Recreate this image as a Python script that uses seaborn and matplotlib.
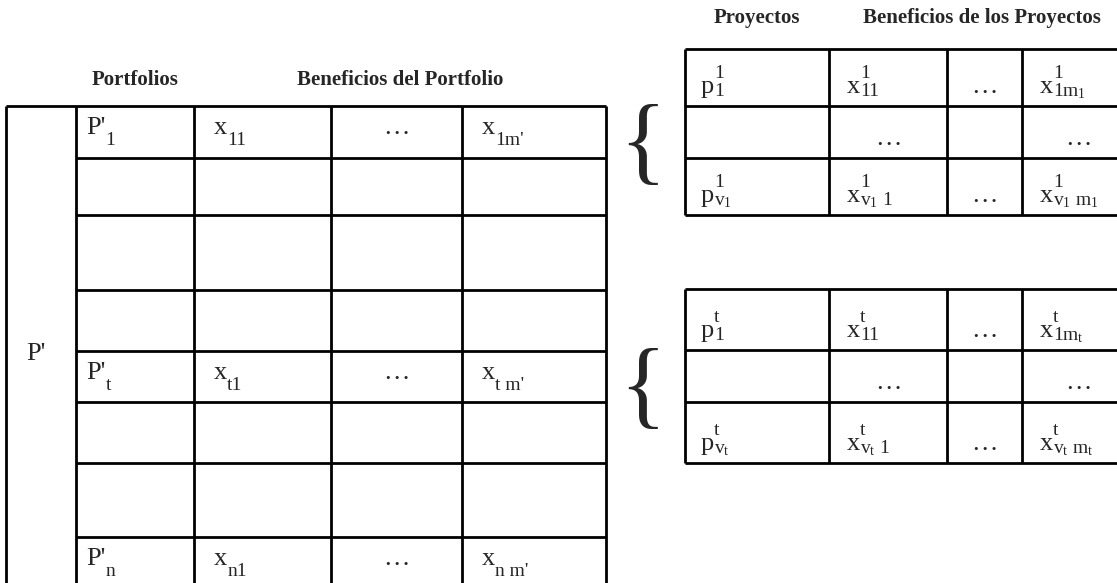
import matplotlib
matplotlib.use("Agg")
import matplotlib.pyplot as plt
import seaborn as sns

# Texts of the diagram: each cell is (base, superscript, subscript)
portfolio_headers = ["Portfolios", "Beneficios del Portfolio"]
project_headers = ["Proyectos", "Beneficios de los Proyectos"]
portfolio_set = "P'"

E = ("", "", "")
D = ("…", "", "")

portfolio_rows = [
    [("P'", "", "1"), ("x", "", "11"), D, ("x", "", "1m'")],
    [E, E, E, E],
    [E, E, E, E],
    [E, E, E, E],
    [("P'", "", "t"), ("x", "", "t1"), D, ("x", "", "t m'")],
    [E, E, E, E],
    [E, E, E, E],
    [("P'", "", "n"), ("x", "", "n1"), D, ("x", "", "n m'")],
]

projects_first = [
    [("p", "1", "1"), ("x", "1", "11"), D, ("x", "1", r"$1m_1$")],
    [E, D, E, D],
    [("p", "1", r"$v_1$"), ("x", "1", r"$v_1\ 1$"), D, ("x", "1", r"$v_1\ m_1$")],
]

projects_t = [
    [("p", "t", "1"), ("x", "t", "11"), D, ("x", "t", r"$1m_t$")],
    [E, D, E, D],
    [("p", "t", r"$v_t$"), ("x", "t", r"$v_t\ 1$"), D, ("x", "t", r"$v_t\ m_t$")],
]

# layout (pixels)
left_cols = [6, 76, 194, 331, 462, 606]
left_rows = [106, 158, 215, 290, 351, 402, 463, 537, 600]
left_pads = [10, 20, 20, 20]
right_cols = [685, 829, 947, 1022, 1134]
right_top_rows = [49, 106, 158, 215]
right_bot_rows = [289, 350, 402, 463]
right_pads = [16, 18, 18, 18]

sns.set_theme(style="white")
plt.rcParams["font.family"] = ["Liberation Serif", "DejaVu Serif"]
plt.rcParams["mathtext.fontset"] = "custom"
plt.rcParams["mathtext.rm"] = "Liberation Serif"
plt.rcParams["mathtext.it"] = "Liberation Serif"
plt.rcParams["mathtext.bf"] = "Liberation Serif:bold"

fig = plt.figure(figsize=(11.17, 5.83), dpi=100)
ax = fig.add_axes([0, 0, 1, 1])
ax.set_xlim(0, 1117)
ax.set_ylim(583, 0)
ax.axis("off")
renderer = fig.canvas.get_renderer()

lw = 2.0
big = 19
small = 14
head = 15


def put(x0, x1, y, cell, pad, sub_drop, sup_rise):
    base, sup, sub = cell
    if not base:
        return
    if base == "…":
        ax.text((x0 + x1) / 2, y, base, ha="center", va="baseline", fontsize=big)
        return
    t = ax.text(x0 + pad, y, base, ha="left", va="baseline", fontsize=big)
    xs = x0 + pad + t.get_window_extent(renderer=renderer).width
    if sup:
        ax.text(xs, y - sup_rise, sup, ha="left", va="baseline", fontsize=small)
    if sub:
        ax.text(xs, y + sub_drop, sub, ha="left", va="baseline", fontsize=small)


# portfolio table
ax.vlines(left_cols, left_rows[0], left_rows[-1], color="black", lw=lw)
ax.hlines(left_rows[0], left_cols[0], left_cols[-1], color="black", lw=lw)
ax.hlines(left_rows[1:], left_cols[1], left_cols[-1], color="black", lw=lw)
for r, row in enumerate(portfolio_rows):
    for c, cell in enumerate(row):
        put(left_cols[c + 1], left_cols[c + 2], left_rows[r] + 28, cell,
            left_pads[c], 11, 0)
ax.text(26, 360, portfolio_set, ha="left", va="baseline", fontsize=big)

ax.text((left_cols[1] + left_cols[2]) / 2, 85, portfolio_headers[0],
        ha="center", va="baseline", fontsize=head, fontweight="bold")
ax.text(400, 85, portfolio_headers[1],
        ha="center", va="baseline", fontsize=head, fontweight="bold")

# project tables
for rows, table in [(right_top_rows, projects_first), (right_bot_rows, projects_t)]:
    ax.vlines(right_cols, rows[0], rows[-1], color="black", lw=lw)
    ax.hlines(rows, right_cols[0], right_cols[-1], color="black", lw=lw)
    for r, row in enumerate(table):
        for c, cell in enumerate(row):
            put(right_cols[c], right_cols[c + 1], rows[r + 1] - 13, cell,
                right_pads[c], 3, 15)

ax.text((right_cols[0] + right_cols[1]) / 2, 23, project_headers[0],
        ha="center", va="baseline", fontsize=head, fontweight="bold")
ax.text(982, 23, project_headers[1],
        ha="center", va="baseline", fontsize=head, fontweight="bold")

# braces
for yc in [149, 393]:
    ax.text(643, yc, "{", ha="center", va="center", fontsize=70)

fig.savefig("out.png", dpi=100)
